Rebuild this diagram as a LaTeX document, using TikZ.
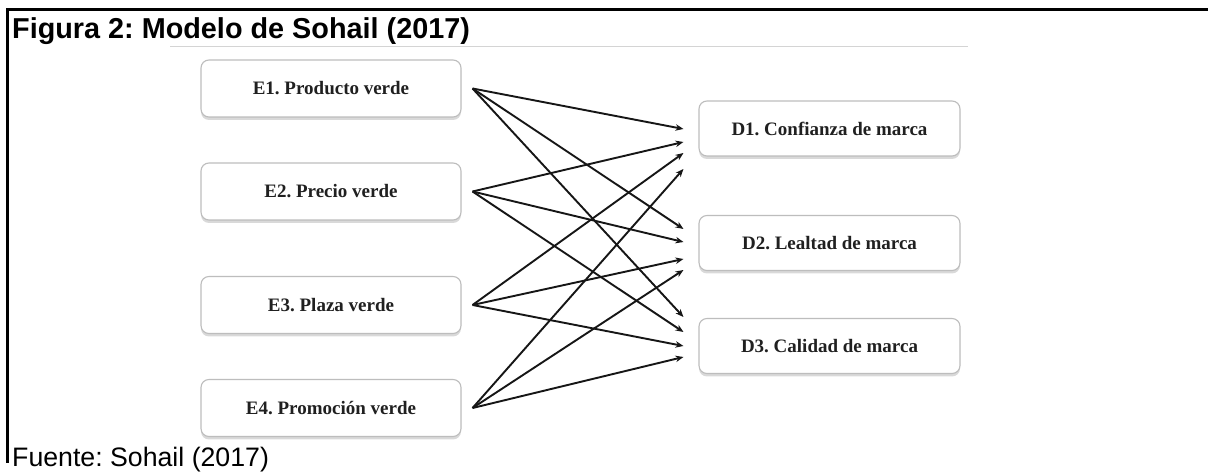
\documentclass[tikz,border=0pt]{standalone}
\usepackage{fontspec}
\setmainfont{Liberation Serif}
\newfontfamily\arialfont{Liberation Sans}
\usetikzlibrary{arrows.meta,shadows,calc}
\definecolor{boxline}{HTML}{BDBDBD}
\definecolor{boxtext}{HTML}{202020}
\definecolor{linkcol}{HTML}{161616}
\definecolor{rulegray}{HTML}{D4D4D4}
\frenchspacing
\begin{document}
\begin{tikzpicture}[x=1bp,y=-1bp,
  factor/.style={draw=boxline, line width=1.1bp, rounded corners=8bp, fill=white,
    inner sep=0pt, font=\fontsize{19bp}{22bp}\selectfont\bfseries, text=boxtext,
    drop shadow={shadow xshift=0bp, shadow yshift=-3bp, opacity=0.15, fill=black}},
  ebox/.style={factor, minimum width=260bp, minimum height=57bp},
  dbox/.style={factor, minimum width=261bp, minimum height=55bp},
  link/.style={draw=linkcol, line width=1.9bp, -{Stealth[length=8bp,width=6.5bp]}},
  frameline/.style={draw=black, line width=2.6bp}]
\useasboundingbox (0,0) rectangle (1208,473);
\fill[white] (0,0) rectangle (1208,473);

% frame and captions
\draw[frameline] (1208,9.5) -- (7.5,9.5) -- (7.5,463);
\draw[rulegray, line width=1bp] (170,47) -- (968,47);
\node[anchor=base west, inner sep=0pt, font=\arialfont\bfseries\fontsize{28.8bp}{32bp}\selectfont] (title) at (12,38.3) {Figura 2: Modelo de Sohail (2017)};
\node[anchor=base west, inner sep=0pt, font=\arialfont\fontsize{26.7bp}{30bp}\selectfont] (source) at (12,467) {Fuente: Sohail (2017)};

% green marketing mix
\node[ebox] (E1) at (331,88.5) {E1. Producto verde};
\node[ebox] (E2) at (331,191.5) {E2. Precio verde};
\node[ebox] (E3) at (331,305) {E3. Plaza verde};
\node[ebox] (E4) at (331,408) {E4. Promoción verde};

% brand dimensions
\node[dbox] (D1) at (829.5,128.5) {D1. Confianza de marca};
\node[dbox] (D2) at (829.5,243) {D2. Lealtad de marca};
\node[dbox] (D3) at (829.5,346) {D3. Calidad de marca};

% fan-out points beside each E box
\foreach \i in {1,...,4} \coordinate (s\i) at ($(E\i.east)+(11,0)$);

% arrow tips beside each D box (one per source, top to bottom)
\coordinate (t11) at ($(D1.west)+(-15,0.5)$);
\coordinate (t12) at ($(D1.west)+(-15,13.5)$);
\coordinate (t13) at ($(D1.west)+(-15,24.5)$);
\coordinate (t14) at ($(D1.west)+(-15,40.5)$);
\coordinate (t21) at ($(D2.west)+(-15,-14)$);
\coordinate (t22) at ($(D2.west)+(-15,-1)$);
\coordinate (t23) at ($(D2.west)+(-15,16)$);
\coordinate (t24) at ($(D2.west)+(-15,27)$);
\coordinate (t31) at ($(D3.west)+(-15,-29)$);
\coordinate (t32) at ($(D3.west)+(-15,-14)$);
\coordinate (t33) at ($(D3.west)+(-15,0)$);
\coordinate (t34) at ($(D3.west)+(-15,11)$);

\foreach \d in {1,2,3}
  \foreach \e in {1,...,4}
    \draw[link] (s\e) -- (t\d\e);
\end{tikzpicture}
\end{document}
